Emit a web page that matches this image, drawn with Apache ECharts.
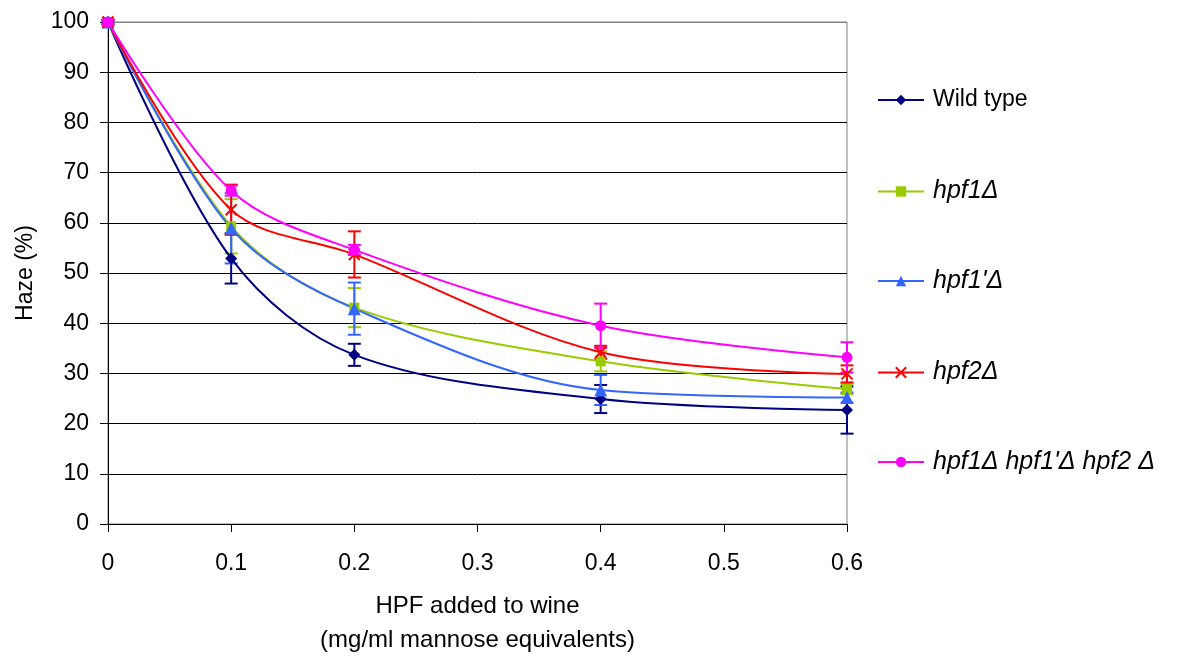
<!DOCTYPE html>
<html>
<head>
<meta charset="utf-8">
<script src="https://cdn.jsdelivr.net/npm/echarts@6/dist/echarts.min.js"></script>
<style>
html,body{margin:0;padding:0;background:#fff;}
#chart{width:1179px;height:662px;}
</style>
</head>
<body>
<div id="chart"></div>
<script>
// ---- data ----
const xValues = [0, 0.1, 0.2, 0.4, 0.6];
const seriesNames = ['Wild type', 'hpf1Δ', "hpf1'Δ", 'hpf2Δ', "hpf1Δ hpf1'Δ hpf2 Δ"];
const wildType = [100, 52.9, 33.7, 24.9, 22.7];
const wildTypeErr = [0.3, 5.0, 2.2, 2.8, 4.7];
const hpf1 = [100, 59.3, 43.1, 32.4, 26.9];
const hpf1Err = [0.3, 5.4, 3.9, 2.0, 1.0];
const hpf1p = [100, 58.9, 42.9, 26.7, 25.2];
const hpf1pErr = [0.3, 7.0, 5.2, 3.0, 1.0];
const hpf2 = [100, 62.6, 53.7, 34.2, 29.9];
const hpf2Err = [0.5, 5.0, 4.6, 1.3, 1.7];
const triple = [100, 66.4, 54.6, 39.5, 33.2];
const tripleErr = [0.5, 1.0, 1.0, 4.4, 3.0];
const xTicks = ['0', '0.1', '0.2', '0.3', '0.4', '0.5', '0.6'];

// ---- styling ----
const colors = ['#000080', '#99CC00', '#3366FF', '#FF0000', '#FF00FF'];
const symbols = ['diamond', 'rect', 'triangle', 'path://M0,0L10,10M10,0L0,10', 'circle'];
const symbolSizes = [12, 10, 13, 11, 11];
const values = [wildType, hpf1, hpf1p, hpf2, triple];
const errs = [wildTypeErr, hpf1Err, hpf1pErr, hpf2Err, tripleErr];
const FONT = 'Liberation Sans, Arial, sans-serif';

// legend layout: line centre y and text offset (px, + = down)
const legendLineY = [100, 191.5, 281, 372.5, 462];
const legendTextShift = [0, 3.5, 0, -8, -10];
const legendFontSize = [23, 25, 25, 25, 25];

const series = [];
values.forEach((vals, i) => {
  series.push({
    name: seriesNames[i] + '__err',
    type: 'custom',
    data: xValues.map((x, j) => [x, vals[j] - errs[i][j], vals[j] + errs[i][j]]),
    encode: { x: 0, y: [1, 2] },
    z: 1,
    silent: true,
    renderItem: function (params, api) {
      const x = api.value(0);
      const lo = api.coord([x, api.value(1)]);
      const hi = api.coord([x, api.value(2)]);
      const hw = 6.5;
      const st = { stroke: colors[i], lineWidth: 2 };
      return {
        type: 'group',
        children: [
          { type: 'line', shape: { x1: lo[0], y1: lo[1], x2: hi[0], y2: hi[1] }, style: st },
          { type: 'line', shape: { x1: lo[0] - hw, y1: lo[1], x2: lo[0] + hw, y2: lo[1] }, style: st },
          { type: 'line', shape: { x1: hi[0] - hw, y1: hi[1], x2: hi[0] + hw, y2: hi[1] }, style: st }
        ]
      };
    }
  });
});
values.forEach((vals, i) => {
  const isX = i === 3;
  series.push({
    name: seriesNames[i],
    type: 'line',
    data: xValues.map((x, j) => [x, vals[j]]),
    smooth: 0.33,
    symbol: symbols[i],
    symbolSize: symbolSizes[i],
    showAllSymbol: true,
    z: 3,
    lineStyle: { color: colors[i], width: 2 },
    itemStyle: isX ? { color: colors[i], borderColor: colors[i], borderWidth: 2 } : { color: colors[i], borderWidth: 0 },
    emphasis: { disabled: true }
  });
});

const legends = seriesNames.map((n, i) => {
  const d = legendTextShift[i];
  const pad = d < 0 ? [0, 0, -2 * d, 4] : [2 * d, 0, 0, 4];
  return {
    orient: 'vertical',
    left: 877,
    top: legendLineY[i] - 13 - Math.abs(d),
    padding: 0,
    itemWidth: 46,
    itemHeight: 13,
    selectedMode: false,
    textStyle: {
      fontFamily: FONT,
      fontSize: legendFontSize[i],
      fontStyle: i === 0 ? 'normal' : 'italic',
      color: '#000',
      lineHeight: 26,
      padding: pad
    },
    data: [{ name: n }]
  };
});

const gridColors = ['#000', '#000', '#000', '#000', '#000', '#000', '#000', '#000', '#000', '#000', '#808080'];

const chart = echarts.init(document.getElementById('chart'), null, { renderer: 'canvas' });
chart.setOption({
  animation: false,
  backgroundColor: '#ffffff',
  textStyle: { fontFamily: FONT },
  grid: { left: 108, top: 22, width: 739, height: 510, show: true, borderColor: '#808080', borderWidth: 1 },
  legend: legends,
  xAxis: {
    type: 'value',
    min: 0,
    max: 0.6,
    interval: 0.1,
    name: 'HPF added to wine\n(mg/ml mannose equivalents)',
    nameLocation: 'middle',
    nameGap: 65,
    nameTextStyle: { fontFamily: FONT, fontSize: 24, color: '#000', lineHeight: 34 },
    axisLine: { lineStyle: { color: '#000', width: 1 } },
    axisTick: { show: true, inside: false, length: 8, lineStyle: { color: '#000' } },
    axisLabel: { margin: 28, fontFamily: FONT, fontSize: 23, color: '#000', formatter: (v) => xTicks[Math.round(v * 10)] },
    splitLine: { show: false }
  },
  yAxis: {
    type: 'value',
    min: 0,
    max: 100,
    interval: 10,
    name: 'Haze (%)',
    nameLocation: 'middle',
    nameRotate: 90,
    nameGap: 71,
    nameTextStyle: { fontFamily: FONT, fontSize: 23, color: '#000' },
    axisLine: { show: true, lineStyle: { color: '#000', width: 1 } },
    axisTick: { show: true, inside: false, length: 8, lineStyle: { color: '#000' } },
    axisLabel: { margin: 19, fontFamily: FONT, fontSize: 23, color: '#000' },
    splitLine: { show: true, lineStyle: { color: gridColors, width: 1 } }
  },
  series: series
});
</script>
</body>
</html>
